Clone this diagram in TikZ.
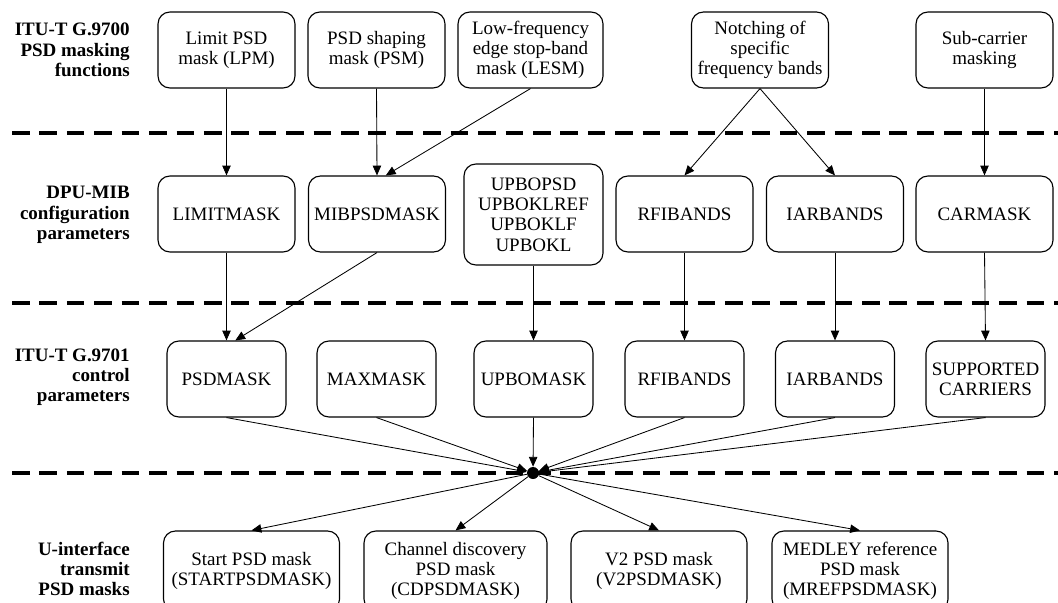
\documentclass[tikz,border=0pt]{standalone}
\usepackage{fontspec}
\setmainfont{Liberation Serif}
\usetikzlibrary{arrows.meta}

\begin{document}
\begin{tikzpicture}[x=0.025cm, y=-0.025cm,
        box/.style={draw, rounded corners=0.3cm, line width=0.8pt, align=center,
            minimum height=1.9cm, inner sep=2pt, font=\fontsize{13.5}{14.4}\selectfont},
        wide/.style={box, minimum width=3.425cm},
        narrow/.style={box, minimum width=2.975cm},
        mask/.style={box, minimum width=4.4cm, minimum height=2cm},
        rowlabel/.style={anchor=east, align=right, inner sep=0pt,
            font=\fontsize{13.5}{14.4}\selectfont\bfseries},
        sep/.style={line width=2.5pt, dash pattern=on 12.5pt off 7pt},
        hub/.style={circle, fill, inner sep=0pt, minimum size=0.3cm},
        arr/.style={-{Triangle[length=7pt,width=6pt]}, line width=0.6pt}]
        \useasboundingbox (0,0) rectangle (1058,603);
        \clip (0,0) rectangle (1058,603);

        % layer separators
        \draw[sep] (12,133) -- (1058,133);
        \draw[sep] (12,303) -- (1058,303);
        \draw[sep] (12,473) -- (1058,473);

        % row labels
        \node[rowlabel] (fnlabel) at (130,50) {ITU-T G.9700\\PSD masking\\functions};
        \node[rowlabel] (miblabel) at (130,215) {DPU-MIB\\configuration\\parameters};
        \node[rowlabel] (ctrllabel) at (130,377) {ITU-T G.9701\\control\\parameters};
        \node[rowlabel] (txlabel) at (130,569) {U-interface\\transmit\\PSD masks};

        % G.9700 functions
        \node[wide] (lpm) at (226.5,50) {Limit PSD\\mask (LPM)};
        \node[wide] (psm) at (376.5,50) {PSD shaping\\mask (PSM)};
        \node[box, minimum width=3.625cm] (lesm) at (530.5,50) {Low-frequency\\edge stop-band\\mask (LESM)};
        \node[wide] (notch) at (760,50) {Notching of\\specific\\frequency bands};
        \node[wide] (subc) at (984.5,50) {Sub-carrier\\masking};

        % DPU-MIB parameters
        \node[wide] (limitmask) at (226.5,214) {LIMITMASK};
        \node[wide] (mibpsd) at (377,214) {MIBPSDMASK};
        \node[box, minimum width=3.475cm, minimum height=2.525cm] (upbo) at (533.5,214.5) {UPBOPSD\\UPBOKLREF\\UPBOKLF\\UPBOKL};
        \node[wide] (rfimib) at (684.5,214) {RFIBANDS};
        \node[wide] (iarmib) at (835,214) {IARBANDS};
        \node[wide] (carmask) at (984.5,214) {CARMASK};

        % G.9701 parameters
        \node[narrow] (psdmask) at (226.5,379) {PSDMASK};
        \node[narrow] (maxmask) at (376.5,379) {MAXMASK};
        \node[narrow] (upbomask) at (533.5,379) {UPBOMASK};
        \node[narrow] (rfictl) at (684.5,379) {RFIBANDS};
        \node[narrow] (iarctl) at (835,379) {IARBANDS};
        \node[narrow] (supp) at (985.5,379) {SUPPORTED\\CARRIERS};

        \node[hub] (join) at (533,473) {};

        % transmit masks
        \node[mask] (start) at (251.5,571) {Start PSD mask\\(STARTPSDMASK)};
        \node[mask, minimum width=4.575cm] (cd) at (455.5,571) {Channel discovery\\PSD mask\\(CDPSDMASK)};
        \node[mask] (vtwo) at (659,571) {V2 PSD mask\\(V2PSDMASK)};
        \node[mask] (mref) at (860,571) {MEDLEY reference\\PSD mask\\(MREFPSDMASK)};

        % functions -> MIB
        \draw[arr] (lpm.south) -- (limitmask.north);
        \draw[arr] (psm.south) -- (mibpsd.north);
        \draw[arr] (lesm.south) -- ([xshift=0.22cm]mibpsd.north);
        \draw[arr] (notch.south) -- (rfimib.north);
        \draw[arr] (notch.south) -- (iarmib.north);
        \draw[arr] (subc.south) -- (carmask.north);

        % MIB -> control
        \draw[arr] (limitmask.south) -- (psdmask.north);
        \draw[arr] (mibpsd.south) -- ([xshift=0.22cm]psdmask.north);
        \draw[arr] (upbo.south) -- (upbomask.north);
        \draw[arr] (rfimib.south) -- (rfictl.north);
        \draw[arr] (iarmib.south) -- (iarctl.north);
        \draw[arr] (carmask.south) -- (supp.north);

        % control -> masks
        \foreach \n in {psdmask, maxmask, upbomask, rfictl, iarctl, supp}
            \draw[arr] (\n.south) -- (join);
        \foreach \n in {start, cd, vtwo, mref}
            \draw[arr] (join) -- (\n.north);
\end{tikzpicture}
\end{document}
